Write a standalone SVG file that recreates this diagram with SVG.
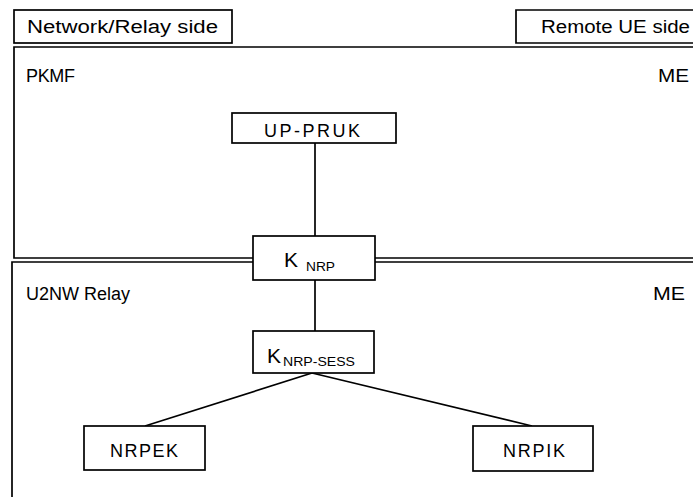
<svg xmlns="http://www.w3.org/2000/svg" width="693" height="497" viewBox="0 0 693 497">
<style>
.frame{fill:none;stroke:#000;stroke-width:1.7}
.box{fill:#fff;stroke:#000;stroke-width:1.7}
.conn{fill:none;stroke:#000;stroke-width:1.7}
text{font-family:"Liberation Sans","Open Sans",sans-serif;font-size:18px;fill:#000}
.k{font-size:21px}
.sub{font-size:13px}
</style>
<rect width="693" height="497" fill="#fff"/>
<g id="network-relay-side">
<rect class="frame" x="14" y="10" width="218" height="33"/>
<text x="27" y="33" textLength="191" lengthAdjust="spacingAndGlyphs">Network/Relay side</text>
</g>
<g id="remote-ue-side">
<path class="frame" d="M700 10H516V43H700"/>
<text x="541" y="33" textLength="149" lengthAdjust="spacingAndGlyphs">Remote UE side</text>
</g>
<g id="pkmf">
<path class="frame" d="M700 47H14V258H700"/>
<text x="26" y="82" textLength="49" lengthAdjust="spacing">PKMF</text>
<text x="658" y="82" textLength="31" lengthAdjust="spacingAndGlyphs">ME</text>
</g>
<g id="u2nw-relay">
<path class="frame" d="M700 262H12V510"/>
<text x="26" y="300" textLength="104" lengthAdjust="spacing">U2NW Relay</text>
<text x="653" y="300" textLength="32" lengthAdjust="spacingAndGlyphs">ME</text>
</g>
<g id="connectors">
<line class="conn" x1="315" y1="143" x2="315" y2="236"/>
<line class="conn" x1="315" y1="280" x2="315" y2="331"/>
<line class="conn" x1="312" y1="373" x2="145" y2="426"/>
<line class="conn" x1="312" y1="373" x2="532" y2="426"/>
</g>
<g id="up-pruk">
<rect class="box" x="232" y="113" width="164" height="30"/>
<text x="264" y="137" textLength="96" lengthAdjust="spacing">UP-PRUK</text>
</g>
<g id="k-nrp">
<rect class="box" x="253" y="236" width="122" height="44"/>
<text class="k" x="284" y="267">K<tspan class="sub" x="306" y="271" textLength="29" lengthAdjust="spacingAndGlyphs">NRP</tspan></text>
</g>
<g id="k-nrp-sess">
<rect class="box" x="253" y="331" width="121" height="42"/>
<text class="k" x="267" y="363">K<tspan class="sub" x="283" y="366" textLength="72" lengthAdjust="spacingAndGlyphs">NRP-SESS</tspan></text>
</g>
<g id="nrpek">
<rect class="box" x="84" y="426" width="121" height="44"/>
<text x="110" y="457" textLength="68" lengthAdjust="spacing">NRPEK</text>
</g>
<g id="nrpik">
<rect class="box" x="473" y="426" width="120" height="45"/>
<text x="503" y="457" textLength="62" lengthAdjust="spacing">NRPIK</text>
</g>
</svg>
